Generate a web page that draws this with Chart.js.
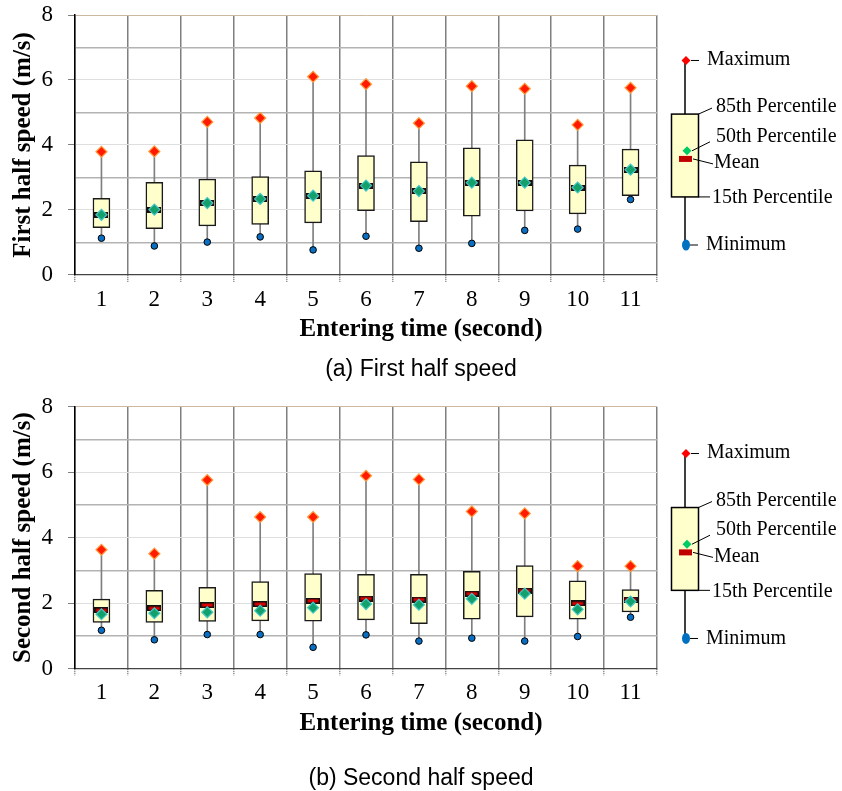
<!DOCTYPE html>
<html>
<head>
<meta charset="utf-8">
<title>Speed by entering time</title>
<script src="https://cdn.jsdelivr.net/npm/chart.js@4.4.1/dist/chart.umd.min.js"></script>
<style>
    html, body { margin: 0; padding: 0; background: #fff; overflow: hidden; }
    .panel { position: absolute; left: 0; width: 842px; }
    #panel-a { top: 0; height: 390px; }
    #panel-b { top: 390px; height: 401px; }
</style>
</head>
<body>
<div class="panel" id="panel-a"><canvas id="chartA"></canvas></div>
<div class="panel" id="panel-b"><canvas id="chartB"></canvas></div>
<script>
// Categories (entering time, second)
const enteringTimes = ['1', '2', '3', '4', '5', '6', '7', '8', '9', '10', '11'];

// (a) First half speed (m/s)
const firstMax    = [3.79, 3.80, 4.71, 4.83, 6.10, 5.87, 4.67, 5.81, 5.73, 4.62, 5.76];
const firstP85    = [2.36, 2.85, 2.95, 3.03, 3.20, 3.67, 3.48, 3.91, 4.16, 3.38, 3.87];
const firstMedian = [1.85, 2.01, 2.21, 2.34, 2.44, 2.75, 2.58, 2.84, 2.84, 2.69, 3.24];
const firstMean   = [1.85, 2.01, 2.21, 2.34, 2.44, 2.75, 2.58, 2.84, 2.84, 2.69, 3.24];
const firstP15    = [1.45, 1.42, 1.51, 1.55, 1.60, 1.98, 1.64, 1.81, 1.97, 1.88, 2.44];
const firstMin    = [1.13, 0.89, 1.01, 1.17, 0.77, 1.19, 0.82, 0.97, 1.37, 1.41, 2.32];

// (b) Second half speed (m/s)
const secondMax    = [3.63, 3.51, 5.76, 4.63, 4.63, 5.89, 5.78, 4.80, 4.74, 3.13, 3.13];
const secondP85    = [2.12, 2.39, 2.48, 2.66, 2.90, 2.88, 2.88, 2.97, 3.15, 2.68, 2.41];
const secondMedian = [1.66, 1.69, 1.72, 1.77, 1.86, 1.97, 1.95, 2.13, 2.29, 1.81, 2.05];
const secondMean   = [1.78, 1.84, 1.94, 1.97, 2.07, 2.14, 2.11, 2.29, 2.38, 1.99, 2.11];
const secondP15    = [1.41, 1.41, 1.44, 1.46, 1.45, 1.49, 1.37, 1.51, 1.58, 1.51, 1.73];
const secondMin    = [1.17, 0.88, 1.04, 1.04, 0.65, 1.03, 0.84, 0.93, 0.84, 0.98, 1.57];

// Axis ticks that carry a label
const yTickLabels = [0, 2, 4, 6, 8];

// Legend key (same order as the drawn key, top to bottom)
const legendLabels = ['Maximum', '85th Percentile', '50th Percentile', 'Mean', '15th Percentile', 'Minimum'];
const legendValuesA = [6.60, 4.95, 3.82, 3.57, 2.40, 0.92];
const legendValuesB = [6.57, 4.92, 3.80, 3.55, 2.39, 0.92];

const SERIF = '"Liberation Serif", "Times New Roman", serif';
const SANS = '"Liberation Sans", Arial, sans-serif';

// Small red bar with black edge used for the mean
function meanMarker() {
    const c = document.createElement('canvas');
    c.width = 14;
    c.height = 6;
    const g = c.getContext('2d');
    g.fillStyle = '#111';
    g.fillRect(0, 0, 14, 6);
    g.fillStyle = '#E00000';
    g.fillRect(1.5, 1.5, 11, 3);
    return c;
}

// Draws the key on the right, using the chart's own y scale
const boxLegendPlugin = {
    id: 'boxLegend',
    afterDraw(chart, args, opts) {
        const ctx = chart.ctx;
        const yScale = chart.scales.y;
        const py = v => yScale.getPixelForValue(v);
        const cx = chart.chartArea.right + 28;
        const [vMax, v85, vMed, vMean, v15, vMin] = opts.values;

        ctx.save();
        // whisker
        ctx.strokeStyle = '#000';
        ctx.lineWidth = 1.5;
        ctx.beginPath();
        ctx.moveTo(cx, py(vMax));
        ctx.lineTo(cx, py(vMin));
        ctx.stroke();

        // box
        ctx.fillStyle = '#FFFFCC';
        ctx.fillRect(cx - 13.5, py(v85), 27, py(v15) - py(v85));
        ctx.strokeRect(cx - 13.5, py(v85), 27, py(v15) - py(v85));

        // mean bar
        ctx.fillStyle = '#C00000';
        ctx.fillRect(cx - 6, py(vMean) - 3, 13, 6);

        const diamond = (x, y, r, color) => {
            ctx.fillStyle = color;
            ctx.beginPath();
            ctx.moveTo(x, y - r);
            ctx.lineTo(x + r, y);
            ctx.lineTo(x, y + r);
            ctx.lineTo(x - r, y);
            ctx.closePath();
            ctx.fill();
        };
        diamond(cx + 2, py(vMed), 4.5, '#00CC66');
        diamond(cx + 1, py(vMax), 4.5, '#FF0000');

        ctx.fillStyle = '#0070C0';
        ctx.beginPath();
        ctx.ellipse(cx + 1, py(vMin), 4, 5.5, 0, 0, Math.PI * 2);
        ctx.fill();

        // leader lines and labels: [value, x1, y1, x2, y2, textX, textY]
        const keys = [
            [vMax, 6, 0, 14, 0, 22, -1],
            [v85, 13.5, 0, 27, -6, 31, -7],
            [vMed, 7, 0, 25, -9, 31, -14],
            [vMean, 8, 0, 28, 5, 29, 4],
            [v15, 13.5, 0, 25, 0, 27, 1],
            [vMin, 5, 0, 13, 0, 21, 0]
        ];
        ctx.strokeStyle = '#000';
        ctx.lineWidth = 1;
        ctx.fillStyle = '#000';
        ctx.font = '20px ' + SERIF;
        ctx.textBaseline = 'middle';
        ctx.textAlign = 'left';
        keys.forEach((k, i) => {
            const y = py(k[0]);
            ctx.beginPath();
            ctx.moveTo(cx + k[1], y + k[2]);
            ctx.lineTo(cx + k[3], y + k[4]);
            ctx.stroke();
            ctx.fillText(legendLabels[i], cx + k[5], y + k[6]);
        });
        ctx.restore();
    }
};

function gridColor(v) {
    if (v === 0) return 'transparent';
    if (v === 8) return '#CBB89E';
    return v % 2 === 1 ? '#B3B3B3' : '#DEDEDE';
}

function makeBoxChart(canvasId, cfg) {
    const s = cfg.series;
    return new Chart(document.getElementById(canvasId), {
        type: 'bar',
        data: {
            labels: enteringTimes,
            datasets: [
                {
                    label: 'Minimum',
                    type: 'line',
                    data: s.min,
                    showLine: false,
                    pointStyle: 'circle',
                    pointRadius: 3.3,
                    pointBackgroundColor: '#0A6FC2',
                    pointBorderColor: '#000',
                    pointBorderWidth: 1,
                    order: 1
                },
                {
                    label: 'Maximum',
                    type: 'line',
                    data: s.max,
                    showLine: false,
                    pointStyle: 'rectRot',
                    pointRadius: 5.5,
                    pointBackgroundColor: '#FF1A00',
                    pointBorderColor: '#FF9A3C',
                    pointBorderWidth: 1.2,
                    order: 2
                },
                {
                    label: '50th Percentile',
                    type: 'line',
                    data: s.median,
                    showLine: false,
                    pointStyle: 'rectRot',
                    pointRadius: 5.5,
                    pointBackgroundColor: '#13A06A',
                    pointBorderColor: '#40C8C8',
                    pointBorderWidth: 1.2,
                    order: 3
                },
                {
                    label: 'Mean',
                    type: 'line',
                    data: s.mean,
                    showLine: false,
                    pointStyle: meanMarker(),
                    pointRadius: 6,
                    order: 4
                },
                {
                    label: '15th-85th Percentile',
                    data: s.p15.map((v, i) => [v, s.p85[i]]),
                    backgroundColor: '#FFFFCC',
                    borderColor: '#1A1A1A',
                    borderWidth: 1.5,
                    borderSkipped: false,
                    barThickness: 17,
                    grouped: false,
                    order: 5
                },
                {
                    label: 'Range',
                    data: s.min.map((v, i) => [v, s.max[i]]),
                    backgroundColor: '#7F7F7F',
                    barThickness: 1,
                    grouped: false,
                    order: 6
                }
            ]
        },
        options: {
            responsive: true,
            maintainAspectRatio: false,
            animation: false,
            layout: { padding: { left: 0, right: 0, top: cfg.padTop, bottom: cfg.padBottom } },
            plugins: {
                legend: { display: false },
                tooltip: { enabled: false },
                subtitle: {
                    display: true,
                    position: 'bottom',
                    text: 'Entering time (second)',
                    color: '#000',
                    font: { family: SERIF, size: 25, weight: 'bold', lineHeight: 1 },
                    padding: { top: 0, bottom: 0 }
                },
                title: {
                    display: true,
                    position: 'bottom',
                    text: cfg.caption,
                    color: '#000',
                    font: { family: SANS, size: 23, weight: 'normal', lineHeight: 1 },
                    padding: { top: cfg.captionGap, bottom: 0 }
                },
                boxLegend: { values: cfg.legendValues }
            },
            scales: {
                x: {
                    offset: true,
                    grid: {
                        offset: true,
                        color: '#7F7F7F',
                        lineWidth: 1.5,
                        tickLength: 7,
                        tickColor: '#777',
                        tickBorderDash: [1, 1]
                    },
                    border: { color: '#444', width: 1.2 },
                    ticks: {
                        color: '#000',
                        font: { family: SERIF, size: 23 },
                        padding: 4,
                        autoSkip: false,
                        maxRotation: 0
                    }
                },
                y: {
                    min: 0,
                    max: 8,
                    afterFit: scale => {
                        scale.width = 75;
                        // let the end labels hang into the outer margin
                        scale.paddingTop = 0;
                        scale.paddingBottom = 0;
                    },
                    grid: {
                        color: c => gridColor(c.tick.value),
                        lineWidth: c => (c.tick.value % 2 === 1 ? 1.5 : 1),
                        tickLength: 7,
                        tickColor: c => (yTickLabels.includes(c.tick.value) ? '#808080' : 'transparent')
                    },
                    border: { color: '#000', width: 1.5 },
                    ticks: {
                        stepSize: 1,
                        autoSkip: false,
                        padding: 15,
                        color: '#000',
                        font: { family: SERIF, size: 23 },
                        callback: v => (yTickLabels.includes(v) ? v : '')
                    },
                    title: {
                        display: true,
                        text: cfg.yTitle,
                        color: '#000',
                        font: { family: SERIF, size: 25, weight: 'bold' },
                        padding: { top: 9, bottom: 0 }
                    }
                },
                // empty right-hand band that holds the key
                key: {
                    type: 'linear',
                    position: 'right',
                    min: 0,
                    max: 8,
                    afterFit: scale => {
                        scale.width = 185;
                        scale.paddingTop = 0;
                        scale.paddingBottom = 0;
                    },
                    grid: { display: false, drawTicks: false },
                    border: { display: false },
                    ticks: { display: false }
                }
            }
        },
        plugins: [boxLegendPlugin]
    });
}

makeBoxChart('chartA', {
    yTitle: 'First half speed (m/s)',
    caption: '(a) First half speed',
    series: { max: firstMax, p85: firstP85, median: firstMedian, mean: firstMean, p15: firstP15, min: firstMin },
    legendValues: legendValuesA,
    padTop: 15,
    padBottom: 8.5,
    captionGap: 16
});

makeBoxChart('chartB', {
    yTitle: 'Second half speed (m/s)',
    caption: '(b) Second half speed',
    series: { max: secondMax, p85: secondP85, median: secondMedian, mean: secondMean, p15: secondP15, min: secondMin },
    legendValues: legendValuesB,
    padTop: 16.7,
    padBottom: 0.5,
    captionGap: 31.3
});
</script>
</body>
</html>
